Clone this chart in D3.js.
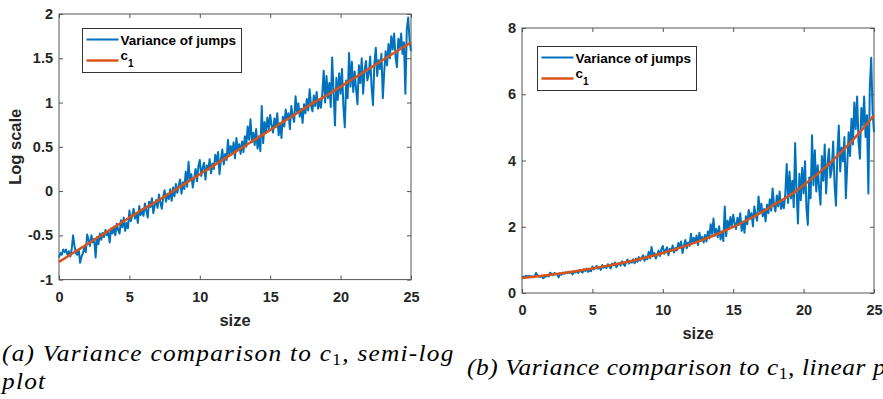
<!DOCTYPE html>
<html>
<head>
<meta charset="utf-8">
<script src="https://cdn.jsdelivr.net/npm/d3@7"></script>
<style>
  body { margin: 0; background: #fff; }
</style>
</head>
<body>
<div id="chart"></div>
<script>
// sizes run 0..25 in steps of 0.1
const sizeStep = 0.1;

// variance of jumps, natural log
const varLog = [
  -0.75, -0.70, -0.72, -0.66, -0.69, -0.66, -0.72, -0.68, -0.74, -0.66,
  -0.50, -0.62, -0.70, -0.72, -0.66, -0.81, -0.74, -0.70, -0.64, -0.69,
  -0.49, -0.55, -0.62, -0.50, -0.58, -0.54, -0.75, -0.52, -0.60, -0.48,
  -0.55, -0.47, -0.52, -0.44, -0.50, -0.46, -0.58, -0.42, -0.48, -0.40,
  -0.50, -0.37, -0.44, -0.48, -0.33, -0.41, -0.30, -0.45, -0.36, -0.42,
  -0.22, -0.34, -0.28, -0.20, -0.31, -0.25, -0.36, -0.17, -0.27, -0.22,
  -0.28, -0.14, -0.22, -0.30, -0.12, -0.18, -0.08, -0.25, -0.16, -0.10,
  -0.19, -0.04, -0.13, -0.20, -0.07, 0.01, -0.12, -0.03, -0.09, 0.02,
  -0.11, 0.04, -0.06, 0.08, -0.02, 0.06, 0.13, -0.03, 0.10, 0.02,
  0.22, 0.05, 0.33, 0.12, 0.19, 0.04, 0.14, 0.25, 0.11, 0.28,
  0.35, 0.17, 0.26, 0.32, 0.13, 0.29, 0.24, 0.36, 0.20, 0.31,
  0.25, 0.41, 0.33, 0.44, 0.19, 0.36, 0.47, 0.30, 0.42, 0.35,
  0.58, 0.40, 0.51, 0.43, 0.55, 0.37, 0.60, 0.46, 0.53, 0.42,
  0.56, 0.44, 0.62, 0.50, 0.73, 0.58, 0.81, 0.55, 0.66, 0.52,
  0.70, 0.48, 0.62, 0.45, 0.96, 0.54, 0.78, 0.66, 0.83, 0.70,
  0.86, 0.74, 0.66, 0.82, 0.72, 0.88, 0.63, 0.77, 0.60, 0.84,
  0.73, 0.92, 0.81, 0.88, 0.70, 0.96, 0.85, 0.78, 1.07, 0.90,
  0.99, 0.84, 0.93, 0.77, 0.98, 0.88, 1.04, 0.91, 1.15, 0.97,
  0.90, 1.08, 0.96, 1.12, 0.93, 1.02, 0.94, 1.10, 1.36, 1.00,
  1.30, 1.05, 1.22, 0.95, 1.51, 1.12, 0.74, 1.28, 1.03, 1.33,
  1.10, 1.38, 0.95, 0.72, 1.25, 1.05, 1.56, 1.18, 1.46, 1.12,
  1.35, 1.15, 0.98, 1.42, 1.22, 1.50, 1.10, 1.36, 1.47, 1.25,
  1.32, 1.52, 1.18, 0.97, 1.44, 1.62, 1.30, 1.48, 1.38, 1.55,
  1.05, 1.35, 1.58, 1.42, 1.66, 1.50, 1.75, 1.60, 1.78, 1.52,
  1.40, 1.72, 1.62, 1.78, 1.55, 1.68, 1.10, 1.82, 1.96, 1.70,
  1.58
];

// fitted c1 line (log scale) at whole sizes
const c1Sizes = [0, 1, 2, 3, 4, 5, 6, 7, 8, 9, 10, 11, 12, 13, 14, 15, 16, 17, 18, 19, 20, 21, 22, 23, 24, 25];
const c1Log = [-0.80, -0.70, -0.60, -0.50, -0.40, -0.30, -0.20, -0.11, -0.01, 0.09, 0.19, 0.29, 0.39,
  0.49, 0.59, 0.69, 0.79, 0.89, 0.99, 1.08, 1.18, 1.28, 1.38, 1.48, 1.58, 1.68];

const xTicks = [0, 5, 10, 15, 20, 25];
const yTicksLog = [-1, -0.5, 0, 0.5, 1, 1.5, 2];
const yTicksLin = [0, 2, 4, 6, 8];

const blue = "#0072BD", red = "#D95319", axisColor = "#555", textColor = "#262626";
const sansFont = "Liberation Sans";
const serifFont = "Liberation Serif";

const svg = d3.select("#chart").append("svg")
    .attr("width", 883)
    .attr("height", 399)
    .style("display", "block");

svg.append("rect").attr("width", 883).attr("height", 399).attr("fill", "#fff");

function drawPanel(p) {
    const x = d3.scaleLinear().domain([0, 25]).range([p.left, p.right]);
    const y = d3.scaleLinear().domain(p.yDomain).range([p.bottom, p.top]);
    const g = svg.append("g");

    // box
    g.append("rect")
        .attr("x", p.left).attr("y", p.top)
        .attr("width", p.right - p.left).attr("height", p.bottom - p.top)
        .attr("fill", "none").attr("stroke", axisColor).attr("stroke-width", 1);

    const fmt = d => String(d);
    const axes = [
        [d3.axisBottom(x).tickValues(xTicks).tickFormat(fmt).tickPadding(12), `translate(0,${p.bottom})`],
        [d3.axisLeft(y).tickValues(p.yTicks).tickFormat(fmt).tickPadding(6), `translate(${p.left},0)`],
        [d3.axisTop(x).tickValues(xTicks).tickFormat(""), `translate(0,${p.top})`],
        [d3.axisRight(y).tickValues(p.yTicks).tickFormat(""), `translate(${p.right},0)`]
    ];
    axes.forEach(([ax, tr]) => {
        const a = g.append("g").attr("transform", tr)
            .call(ax.tickSizeInner(-4).tickSizeOuter(0));
        a.attr("font-family", sansFont).attr("font-size", 14.5).attr("font-weight", "bold");
        a.select(".domain").remove();
        a.selectAll("line").attr("stroke", axisColor);
        a.selectAll("text").attr("fill", textColor);
    });

    // lines
    const varLine = d3.line()
        .x((d, i) => x(i * sizeStep))
        .y(d => y(p.tf(d)));
    g.append("path").datum(varLog)
        .attr("d", varLine)
        .attr("fill", "none").attr("stroke", blue)
        .attr("stroke-width", 2).attr("stroke-linejoin", "round");

    const c1Line = d3.line()
        .x((d, i) => x(c1Sizes[i]))
        .y(d => y(p.tf(d)))
        .curve(d3.curveMonotoneX);
    g.append("path").datum(c1Log)
        .attr("d", c1Line)
        .attr("fill", "none").attr("stroke", red)
        .attr("stroke-width", 2.5);

    // axis labels
    g.append("text")
        .attr("x", (p.left + p.right) / 2).attr("y", p.bottom + 46)
        .attr("text-anchor", "middle")
        .attr("fill", textColor)
        .attr("font-family", sansFont).attr("font-size", 16.5).attr("font-weight", "bold")
        .text("size");
    if (p.yLabel) {
        g.append("text")
            .attr("transform", `translate(21,${(p.top + p.bottom) / 2}) rotate(-90)`)
            .attr("text-anchor", "middle")
            .attr("fill", textColor)
            .attr("font-family", sansFont).attr("font-size", 16.5).attr("font-weight", "bold")
            .text(p.yLabel);
    }

    // legend
    const leg = g.append("g").attr("transform", `translate(${p.legendX},${p.legendY})`);
    leg.append("rect").attr("width", 159).attr("height", 44)
        .attr("fill", "#fff").attr("stroke", "#333").attr("stroke-width", 1);
    leg.append("line").attr("x1", 4).attr("x2", 36).attr("y1", 11).attr("y2", 11)
        .attr("stroke", blue).attr("stroke-width", 2);
    leg.append("line").attr("x1", 4).attr("x2", 36).attr("y1", 32).attr("y2", 32)
        .attr("stroke", red).attr("stroke-width", 2.5);
    const legText = leg.append("g")
        .attr("fill", "#000")
        .attr("font-family", sansFont).attr("font-size", 13.5).attr("font-weight", "bold");
    legText.append("text").attr("x", 38).attr("y", 16).text("Variance of jumps");
    const c = legText.append("text").attr("x", 38).attr("y", 31);
    c.append("tspan").text("c");
    c.append("tspan").attr("dy", 7).attr("font-size", 10).text("1");
}

drawPanel({
    left: 59, right: 411, top: 14, bottom: 279.6,
    yDomain: [-1, 2], yTicks: yTicksLog, tf: v => v,
    yLabel: "Log scale", legendX: 82.5, legendY: 28.5
});

drawPanel({
    left: 522, right: 874, top: 28, bottom: 293,
    yDomain: [0, 8], yTicks: yTicksLin, tf: v => Math.exp(v),
    yLabel: null, legendX: 537.5, legendY: 46.5
});

// captions: Times italic, a little wider and letter-spaced to fill the LaTeX caption width
const capScale = 1.1;
function caption(x, y, parts, width) {
    const t = svg.append("text")
        .attr("fill", "#000")
        .attr("font-family", serifFont)
        .attr("font-size", 23)
        .attr("font-style", "italic");
    parts.forEach(([s, sub]) => {
        if (sub) {
            t.append("tspan").attr("dy", 4).attr("font-style", "normal").attr("font-size", 16).text(s);
        } else {
            t.append("tspan").attr("dy", t.selectAll("tspan").size() ? -4 : 0).text(s);
        }
    });
    const nChars = parts.map(d => d[0]).join("").length;
    const len0 = t.node().getComputedTextLength();
    const ls = (width / capScale - len0) / nChars;
    t.attr("letter-spacing", ls);
    const sx = width / t.node().getComputedTextLength();
    t.attr("transform", `translate(${x},${y}) scale(${sx},1)`);
    return [sx, ls];
}
const [sxA, lsA] = caption(2, 365, [["(a) Variance comparison to c"], ["1", true], [", semi-log"]], 453);
svg.append("text")
    .attr("transform", `translate(2,389) scale(${sxA},1)`)
    .attr("font-family", serifFont)
    .attr("font-size", 23).attr("font-style", "italic")
    .attr("letter-spacing", lsA)
    .text("plot");
caption(467, 379, [["(b) Variance comparison to c"], ["1", true], [", linear plot"]], 448);
</script>
</body>
</html>
